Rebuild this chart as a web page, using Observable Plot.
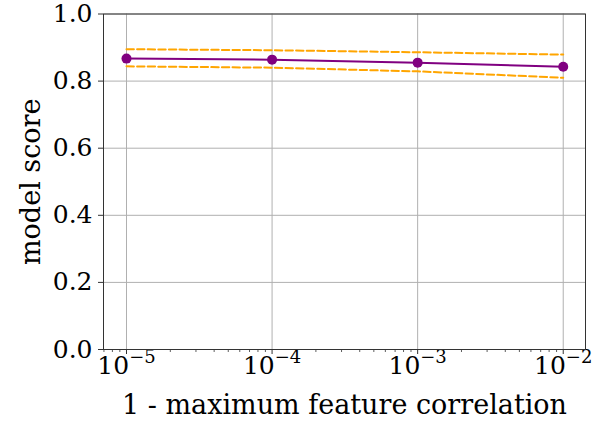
<!DOCTYPE html>
<html><head><meta charset="utf-8">
<script src="https://cdn.jsdelivr.net/npm/d3@7"></script>
<script src="https://cdn.jsdelivr.net/npm/@observablehq/plot@0.6"></script>
<style>
body{margin:0;background:#fff;}
svg{font-family:"DejaVu Serif",serif;}
</style></head><body><div id="chart"></div>
<script>
const xValues = [1e-5, 1e-4, 1e-3, 1e-2];
const meanScore = [0.867, 0.864, 0.855, 0.843];
const upperScore = [0.895, 0.892, 0.886, 0.879];
const lowerScore = [0.844, 0.840, 0.829, 0.810];
const yTicks = [0, 0.2, 0.4, 0.6, 0.8, 1.0];
const xTicks = [1e-5, 1e-4, 1e-3, 1e-2];
const xLabel = "1 - maximum feature correlation";
const yLabel = "model score";

const xMin = Math.pow(10, -5.158), xMax = Math.pow(10, -1.847);
const minorTicks = [];
for (let e = -6; e <= -2; e++) for (let m = 2; m <= 9; m++) {
  const v = m * Math.pow(10, e);
  if (v > xMin && v < xMax) minorTicks.push(v);
}
const rows = xValues.map((x, i) => ({x, mean: meanScore[i], upper: upperScore[i], lower: lowerScore[i]}));

const chart = Plot.plot({
  width: 613, height: 425,
  marginLeft: 103, marginRight: 28, marginTop: 13.5, marginBottom: 76,
  style: {fontFamily: "DejaVu Serif", fontSize: "25px", color: "#000", background: "#fff", overflow: "visible"},
  x: {type: "log", domain: [xMin, xMax]},
  y: {domain: [0, 1]},
  marks: [
    Plot.gridX(xTicks, {stroke: "#b0b0b0", strokeOpacity: 1, strokeWidth: 1}),
    Plot.gridY(yTicks, {stroke: "#b0b0b0", strokeOpacity: 1, strokeWidth: 1}),
    Plot.axisX(minorTicks, {tickSize: 3, text: null, stroke: "#333", strokeWidth: 0.8, label: null}),
    Plot.axisX(xTicks, {tickSize: 5, tickPadding: 1.25, stroke: "#333", fontSize: 25, fill: "#000",
      tickFormat: d => "10^" + Math.round(Math.log10(d)), label: null}),
    Plot.axisY(yTicks, {tickSize: 5, tickPadding: 6, stroke: "#333", fontSize: 25, fill: "#000",
      tickFormat: d => d.toFixed(1), label: null}),
    Plot.line(rows, {x: "x", y: "upper", stroke: "#ffa500", strokeWidth: 2, strokeDasharray: "7.4,3.2"}),
    Plot.line(rows, {x: "x", y: "lower", stroke: "#ffa500", strokeWidth: 2, strokeDasharray: "7.4,3.2"}),
    Plot.line(rows, {x: "x", y: "mean", stroke: "#800080", strokeWidth: 2}),
    Plot.dot(rows, {x: "x", y: "mean", r: 5, fill: "#800080", stroke: "none"}),
    Plot.frame({stroke: "#333", strokeWidth: 1}),
    Plot.text([xLabel], {frameAnchor: "bottom", dy: 64, fontSize: 27, fill: "#000", text: d => d}),
    Plot.text([yLabel], {frameAnchor: "left", dx: -72, rotate: -90, textAnchor: "middle", lineAnchor: "middle", fontSize: 27, fill: "#000", text: d => d})
  ]
});
document.getElementById("chart").appendChild(chart);

// superscript exponents on the x tick labels
d3.select(chart).selectAll('g[aria-label="x-axis tick label"] text').each(function() {
  const t = d3.select(this);
  const s = t.text();
  if (!s.startsWith("10^")) return;
  const exp = s.slice(3).replace("-", "\u2212");
  t.text("");
  t.append("tspan").text("10");
  t.append("tspan").attr("dy", "-11px").attr("font-size", "18px").text(exp);
});
</script></body></html>
